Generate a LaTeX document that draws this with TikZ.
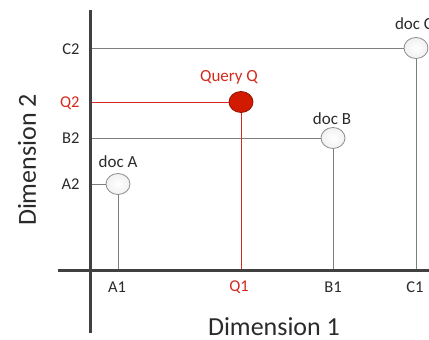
\documentclass[tikz,border=0pt]{standalone}
\usepackage{fontspec}
\setmainfont{Carlito}
\definecolor{axisc}{HTML}{404040}
\definecolor{textc}{HTML}{2A2A2A}
\definecolor{gridc}{HTML}{7F7F7F}
\definecolor{qred}{HTML}{D42A1E}
\definecolor{qfill}{HTML}{D21A00}
\definecolor{docfill}{HTML}{F2F2F2}
\definecolor{docedge}{HTML}{8C8C8C}
\tikzset{
  axisline/.style={line width=3pt, axisc},
  gridline/.style={line width=0.8pt, gridc},
  qline/.style={line width=0.8pt, qred},
  docnode/.style={ellipse, draw=docedge, line width=0.8pt, inner color=white, outer color=docfill!80!gray!40, minimum width=24pt, minimum height=21pt, inner sep=0pt},
  qnode/.style={ellipse, draw=qfill!70!black, line width=0.8pt, fill=qfill, minimum width=24pt, minimum height=21pt, inner sep=0pt},
  ticklab/.style={font=\fontsize{16.5}{18}\selectfont, text=textc},
  qlab/.style={font=\fontsize{16.5}{18}\selectfont, text=qred},
  doclab/.style={font=\fontsize{17}{19}\selectfont, text=textc},
  dimlab/.style={font=\fontsize{26}{28}\selectfont, text=textc, inner sep=1pt},
}
\usetikzlibrary{shapes.geometric}
\begin{document}
\begin{tikzpicture}[x=1pt,y=1pt]
\useasboundingbox (0,0) rectangle (429,-340);
\clip (0,0) rectangle (429,-340);
% axes
\coordinate (yt) at (90,-10);
\coordinate (yb) at (90,-333);
\coordinate (xl) at (58,-270);
\coordinate (xr) at (432,-270);
% doc nodes
\node[docnode] (A) at (118,-184) {};
\node[docnode] (B) at (333,-138) {};
\node[docnode] (C) at (416,-48) {};
\node[qnode] (Q) at (241,-102) {};
% axis points
\coordinate (A2) at (90,-184);
\coordinate (B2) at (90,-138);
\coordinate (C2) at (90,-48);
\coordinate (Q2) at (90,-102);
\coordinate (A1) at (118,-270);
\coordinate (B1) at (333,-270);
\coordinate (C1) at (416,-270);
\coordinate (Q1) at (241,-270);
% grid lines
\draw[gridline] (C2) -- (C.west);
\draw[gridline] (B2) -- (B.west);
\draw[gridline] (A2) -- (A.west);
\draw[gridline] (A.south) -- (A1);
\draw[gridline] (B.south) -- (B1);
\draw[gridline] (C.south) -- (C1);
\draw[qline] (Q2) -- (Q.west);
\draw[qline] (Q.south) -- (Q1);
% axes on top
\draw[axisline] (yt) -- (yb);
\draw[axisline] (xl) -- (xr);
% labels
\node[ticklab, anchor=east] (lC2) at (83,-49) {C2};
\node[qlab, anchor=east] (lQ2) at (83,-103) {Q2};
\node[ticklab, anchor=east] (lB2) at (83,-138) {B2};
\node[ticklab, anchor=east] (lA2) at (83,-184) {A2};
\node[ticklab] (lA1) at (117,-287) {A1};
\node[qlab] (lQ1) at (239,-287) {Q1};
\node[ticklab] (lB1) at (333,-287) {B1};
\node[ticklab] (lC1) at (415,-287) {C1};
\node[doclab] (tA) at (118,-162) {doc A};
\node[doclab] (tB) at (332,-119) {doc B};
\node[doclab] (tC) at (414,-24) {doc C};
\node[qlab, font=\fontsize{17}{19}\selectfont] (tQ) at (229,-77) {Query Q};
\node[dimlab] (d1) at (274,-327) {Dimension 1};
\node[dimlab, rotate=90] (d2) at (27,-160) {Dimension 2};
\end{tikzpicture}
\end{document}
